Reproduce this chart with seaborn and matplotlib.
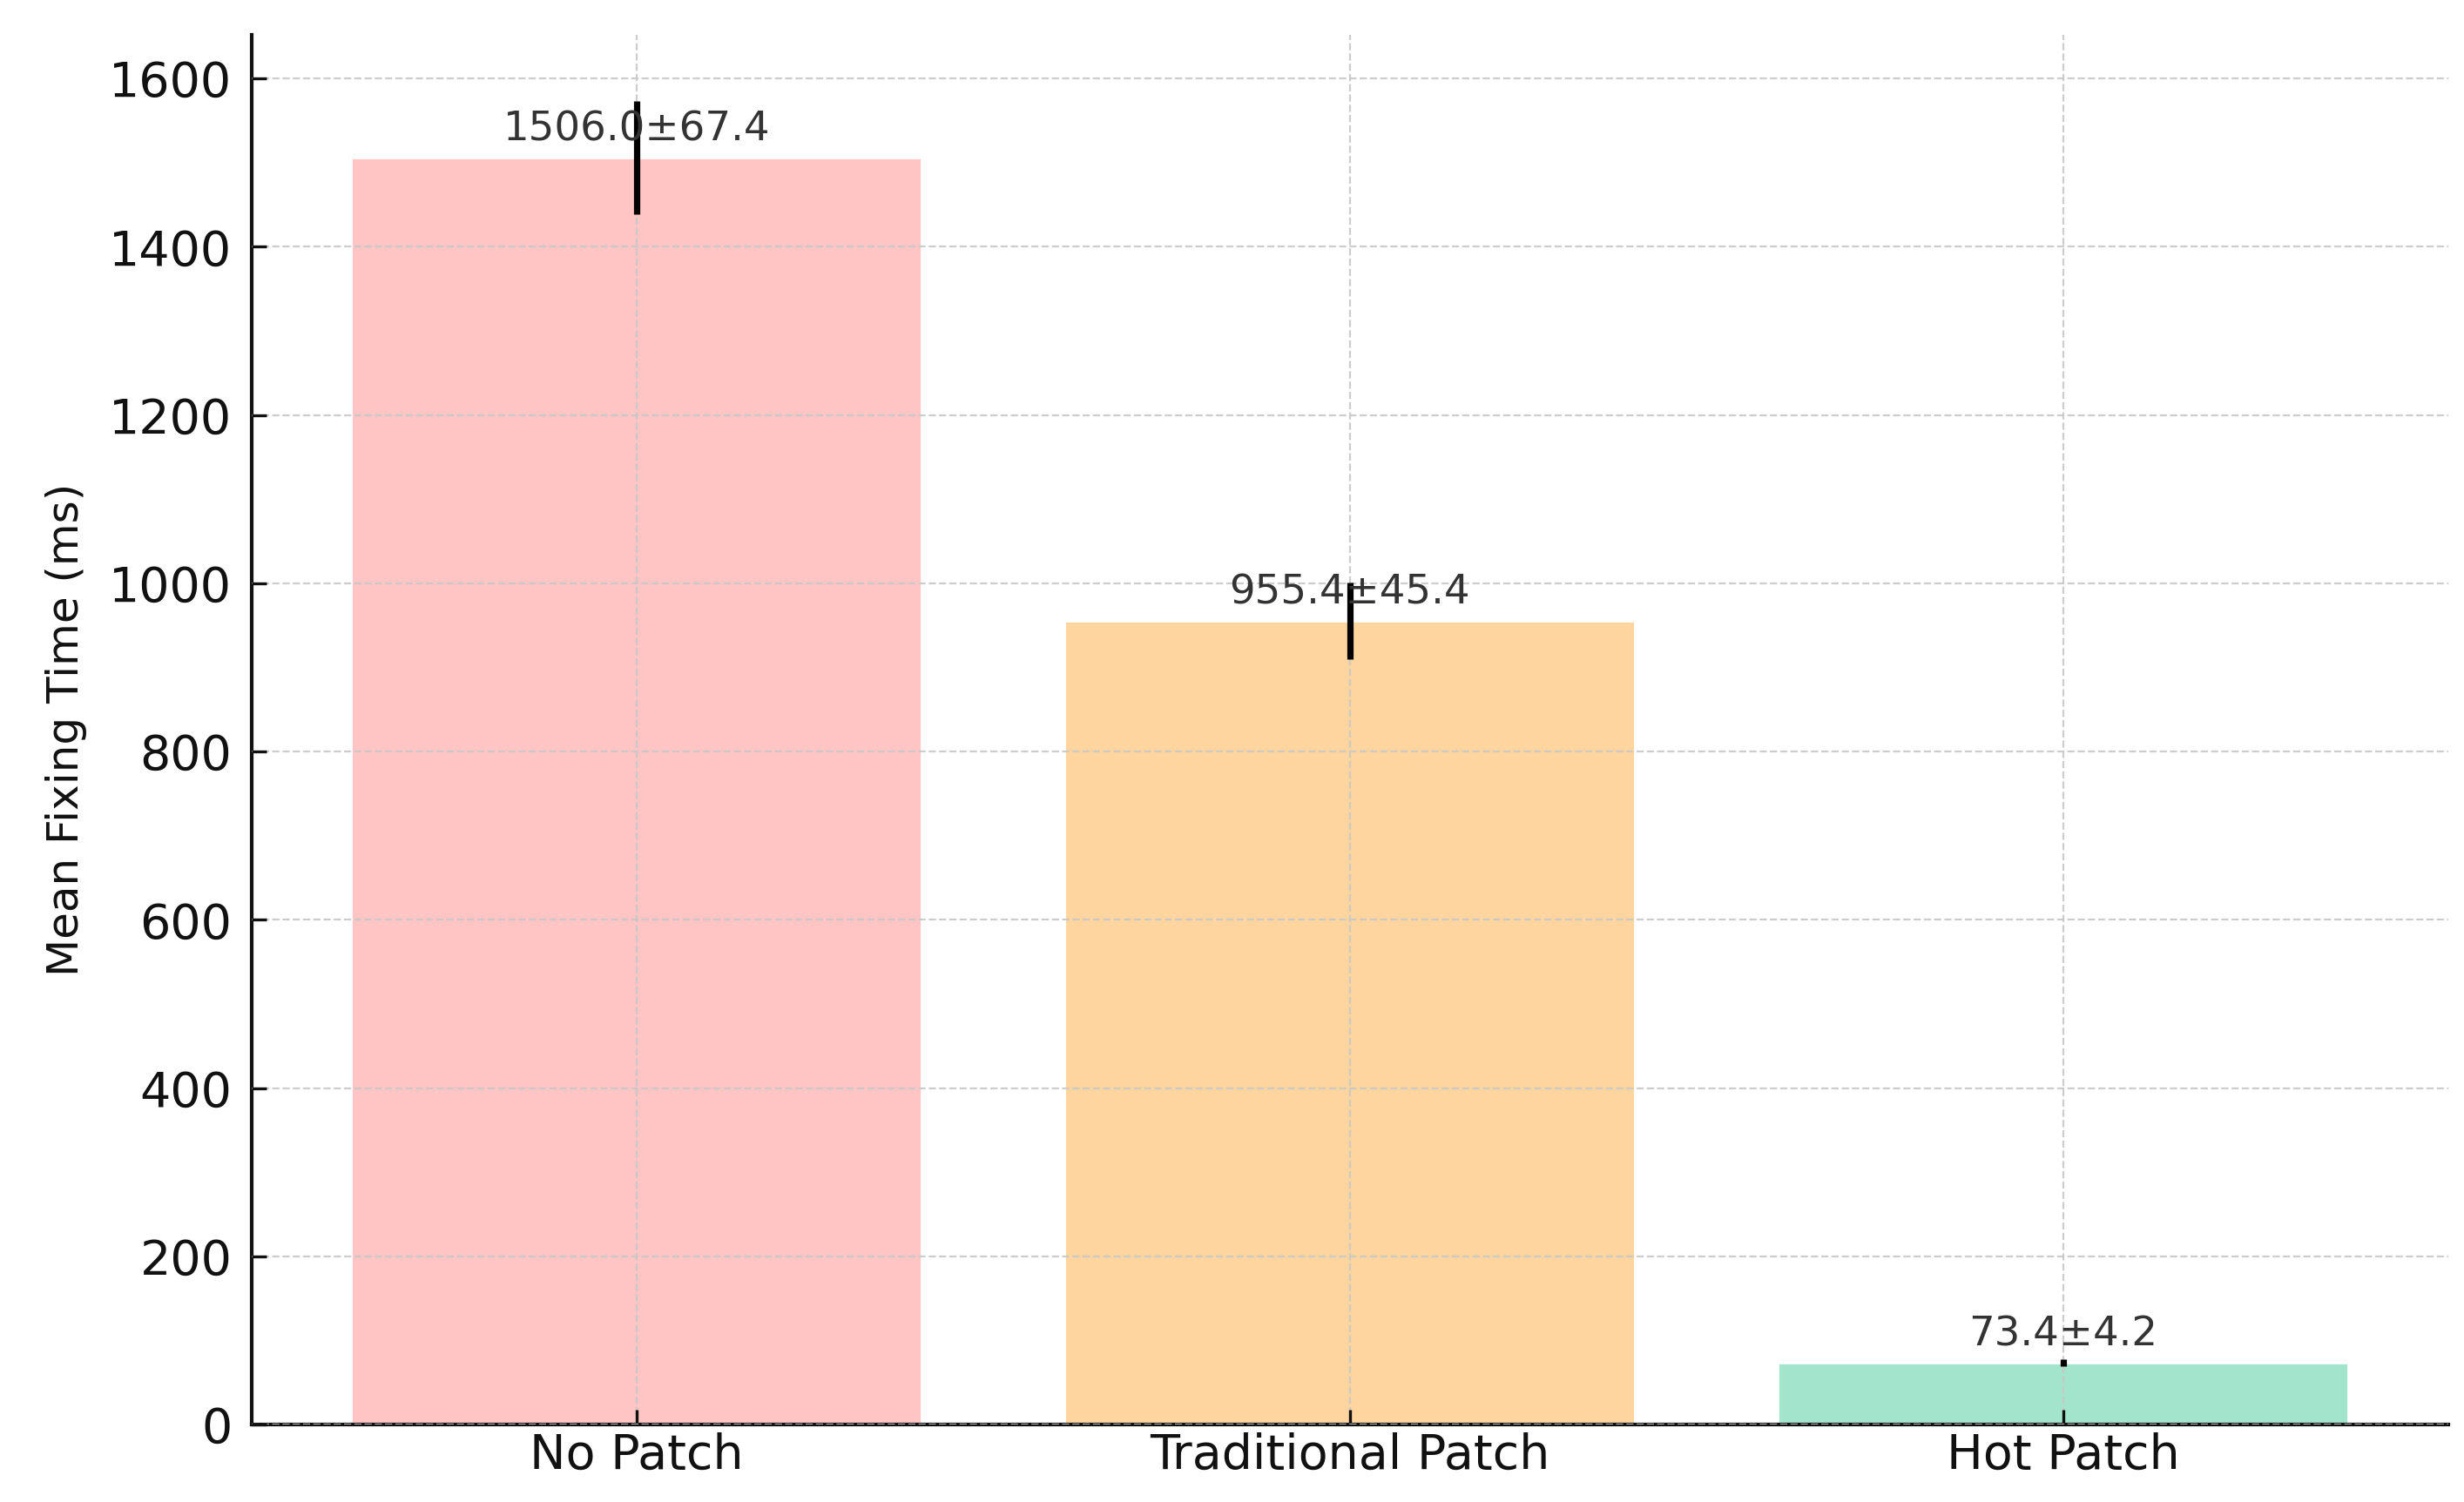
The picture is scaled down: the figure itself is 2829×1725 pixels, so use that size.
import matplotlib
matplotlib.use("Agg")
import matplotlib.pyplot as plt
import seaborn as sns
import pandas as pd

categories = ["No Patch", "Traditional Patch", "Hot Patch"]
means = [1506.0, 955.4, 73.4]
stds = [67.4, 45.4, 4.2]
colors = ["#FFC4C4", "#FED59E", "#A3E4CD"]
ylabel = "Mean Fixing Time (ms)"

sns.set_theme(style="ticks")
plt.rcParams["font.family"] = ["DejaVu Sans"]

df = pd.DataFrame({"cat": categories, "mean": means, "std": stds})

fig = plt.figure(figsize=(2829 / 200, 1725 / 200), dpi=200)
ax = fig.add_axes([0.102, 0.0516, 0.8916, 0.9252])

sns.barplot(data=df, x="cat", y="mean", hue="cat", palette=colors,
            legend=False, errorbar=None, width=0.8, saturation=1, ax=ax)

xs = list(range(len(categories)))
ax.errorbar(xs, means, yerr=stds, fmt="none", ecolor="black",
            elinewidth=2.6, capsize=0, zorder=3)

for x, m, s in zip(xs, means, stds):
    ax.text(x, m + 10, f"{m:.1f}±{s:.1f}", ha="center", va="bottom",
            fontsize=16.8, color="#333333", zorder=4)

ax.set_xlim(-0.54, 2.54)
ax.set_ylim(0, 1652)
ax.set_yticks([0, 200, 400, 600, 800, 1000, 1200, 1400, 1600])
ax.set_xlabel("")
ax.set_ylabel(ylabel, fontsize=18, labelpad=9, color="#111111")

ax.grid(True, linestyle="--", color="#c8c8c8", linewidth=0.8, alpha=0.9)
ax.set_axisbelow(False)
for ln in ax.get_xgridlines() + ax.get_ygridlines():
    ln.set_zorder(1.5)

ax.tick_params(axis="both", direction="in", length=6, width=1.2,
               labelsize=20, colors="#111111")
ax.tick_params(axis="y", pad=8)
ax.tick_params(axis="x", pad=3)

for side in ["top", "right"]:
    ax.spines[side].set_visible(False)
for side in ["left", "bottom"]:
    ax.spines[side].set_linewidth(1.5)
    ax.spines[side].set_color("#111111")

fig.savefig("out.png", dpi=200)
